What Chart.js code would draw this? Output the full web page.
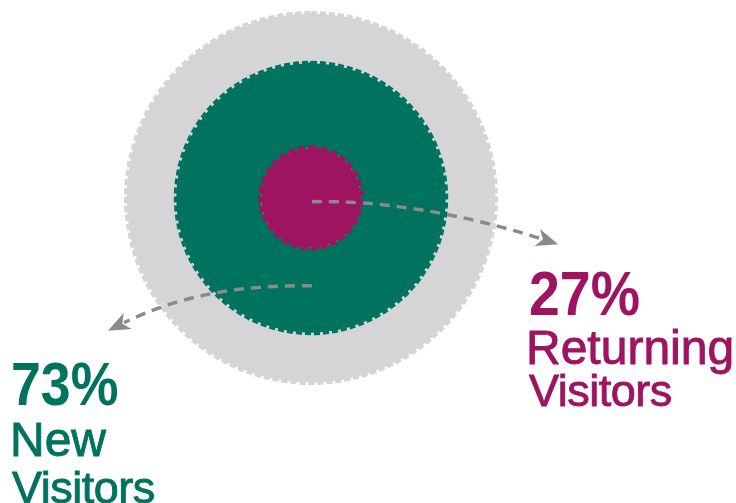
<!DOCTYPE html>
<html>
<head>
<meta charset="utf-8">
<script src="https://cdn.jsdelivr.net/npm/chart.js@4"></script>
<style>
  body { margin: 0; background: #fff; }
  #wrap { position: relative; width: 736px; height: 503px; overflow: hidden; }
  #wrap canvas { position: absolute; left: 0; top: 0; }
  .lbl { position: absolute; font-family: "Liberation Sans", Arial, sans-serif; white-space: nowrap; line-height: 1; transform-origin: 0 0; -webkit-text-stroke: 0.9px currentColor; }
  .pct { font-weight: bold; transform: scaleX(0.88); -webkit-text-stroke: 0; }
</style>
</head>
<body>
<div id="wrap">
  <canvas id="visitChart" width="736" height="503"></canvas>
  <div class="lbl pct" id="pctReturn" style="left:529px; top:262px; font-size:63px;"></div>
  <div class="lbl" id="txtReturn1" style="left:526px; top:324px; font-size:48px;"></div>
  <div class="lbl" id="txtReturn2" style="left:529px; top:368px; font-size:45px; letter-spacing:-0.5px;"></div>
  <div class="lbl pct" id="pctNew" style="left:11px; top:354px; font-size:61px;"></div>
  <div class="lbl" id="txtNew1" style="left:10px; top:416px; font-size:48px;"></div>
  <div class="lbl" id="txtNew2" style="left:12px; top:465px; font-size:45px; letter-spacing:-0.5px;"></div>
</div>
<script>
// data
const categories = ['New Visitors', 'Returning Visitors'];
const visitorShare = [73, 27];
const totalShare = 100;
const categoryLines = [['New', 'Visitors'], ['Returning', 'Visitors']];

// colours
const grey = '#d5d5d7';
const green = '#00735f';
const magenta = '#9e1461';
const arrowGrey = '#8a8a8a';

// labels (html text)
document.getElementById('pctNew').textContent = visitorShare[0] + '%';
document.getElementById('txtNew1').textContent = categoryLines[0][0];
document.getElementById('txtNew2').textContent = categoryLines[0][1];
document.getElementById('pctReturn').textContent = visitorShare[1] + '%';
document.getElementById('txtReturn1').textContent = categoryLines[1][0];
document.getElementById('txtReturn2').textContent = categoryLines[1][1];
['pctNew', 'txtNew1', 'txtNew2'].forEach(id => document.getElementById(id).style.color = green);
['pctReturn', 'txtReturn1', 'txtReturn2'].forEach(id => document.getElementById(id).style.color = magenta);

// dashed curved arrow with a filled head
function drawArrow(ctx, p0, c, p1) {
  let ang = Math.atan2(p1.y - c.y, p1.x - c.x);
  let len = 22, half = 9;
  let bx = p1.x - Math.cos(ang) * len, by = p1.y - Math.sin(ang) * len;
  ctx.save();
  ctx.strokeStyle = arrowGrey;
  ctx.lineWidth = 3.5;
  ctx.setLineDash([10, 7]);
  ctx.beginPath();
  ctx.moveTo(p0.x, p0.y);
  ctx.quadraticCurveTo(c.x, c.y, bx + Math.cos(ang) * 4, by + Math.sin(ang) * 4);
  ctx.stroke();
  ctx.setLineDash([]);
  ctx.fillStyle = arrowGrey;
  ctx.beginPath();
  ctx.moveTo(p1.x, p1.y);
  ctx.lineTo(bx + Math.sin(ang) * half, by - Math.cos(ang) * half);
  ctx.lineTo(bx + Math.cos(ang) * 6, by + Math.sin(ang) * 6);
  ctx.lineTo(bx - Math.sin(ang) * half, by + Math.cos(ang) * half);
  ctx.closePath();
  ctx.fill();
  ctx.restore();
}

const arrowPlugin = {
  id: 'arrows',
  afterDatasetsDraw(chart) {
    let arc = chart.getDatasetMeta(0).data[0];
    if (!arc) return;
    let cx = arc.x, cy = arc.y, R = arc.outerRadius;
    let ctx = chart.ctx;
    // towards returning visitors label
    drawArrow(ctx,
      { x: cx + 0.005 * R, y: cy + 0.02 * R },
      { x: cx + 0.58 * R, y: cy + 0.01 * R },
      { x: cx + 1.34 * R, y: cy + 0.25 * R });
    // towards new visitors label
    drawArrow(ctx,
      { x: cx + 0.005 * R, y: cy + 0.476 * R },
      { x: cx - 0.594 * R, y: cy + 0.465 * R },
      { x: cx - 1.1 * R, y: cy + 0.72 * R });
  }
};

// ring thickness follows the shares: outer 100, green 73, inner 27
const ringWeights = [
  totalShare - visitorShare[0],
  visitorShare[0] - visitorShare[1],
  visitorShare[1]
];

new Chart(document.getElementById('visitChart'), {
  type: 'doughnut',
  data: {
    labels: ['All'],
    datasets: [
      {
        label: 'All Visitors',
        data: [totalShare],
        weight: ringWeights[0],
        backgroundColor: grey,
        borderColor: grey,
        borderWidth: 5,
        borderDash: [6, 3],
        order: 3
      },
      {
        label: categories[0],
        data: [visitorShare[0]],
        weight: ringWeights[1],
        backgroundColor: green,
        borderColor: green,
        borderWidth: 5,
        borderDash: [6, 3],
        order: 2
      },
      {
        label: categories[1],
        data: [visitorShare[1]],
        weight: ringWeights[2],
        backgroundColor: magenta,
        borderColor: magenta,
        borderWidth: 6,
        borderDash: [6, 4],
        order: 1
      }
    ]
  },
  options: {
    responsive: false,
    animation: false,
    cutout: 0,
    hoverOffset: 0,
    layout: { padding: { left: 124, top: 11, right: 238, bottom: 118 } },
    plugins: {
      legend: { display: false },
      tooltip: { enabled: false }
    }
  },
  plugins: [arrowPlugin]
});
</script>
</body>
</html>
